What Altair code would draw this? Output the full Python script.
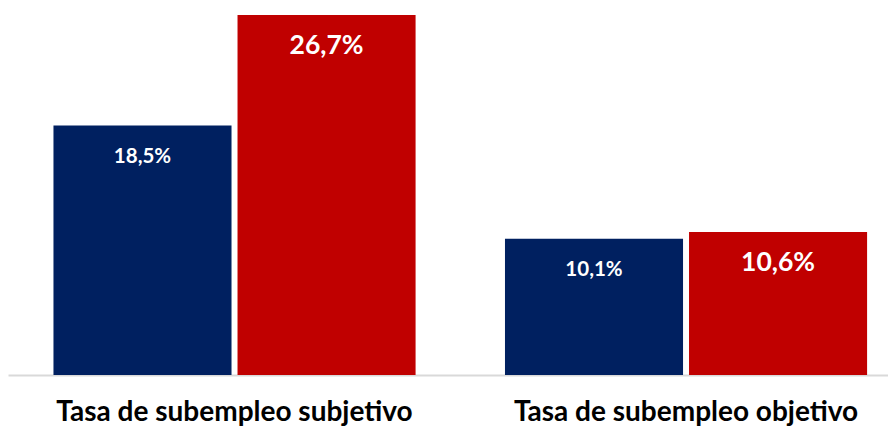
import altair as alt
import pandas as pd

grupos = ["Tasa de subempleo subjetivo", "Tasa de subempleo objetivo"]
series = ["Serie 1", "Serie 2"]
valores_serie1 = [18.5, 10.1]
valores_serie2 = [26.7, 10.6]
colores = ["#002060", "#C00000"]

rows = []
for g, v1, v2 in zip(grupos, valores_serie1, valores_serie2):
    rows.append({"grupo": g, "serie": series[0], "valor": v1})
    rows.append({"grupo": g, "serie": series[1], "valor": v2})
df = pd.DataFrame(rows)
df["etiqueta"] = df["valor"].map(lambda v: f"{v:.1f}".replace(".", ",") + "%")

x_enc = alt.X(
    "grupo:N",
    sort=grupos,
    scale=alt.Scale(paddingInner=0.198, paddingOuter=0.0735, align=0.685),
    axis=alt.Axis(
        title=None, labelAngle=0, ticks=False, grid=False,
        domainColor="#D9D9D9", domainWidth=2,
        labelFont="Lato", labelFontSize=28, labelFontWeight="bold",
        labelColor="#000000", labelPadding=23, labelLimit=0,
    ),
)
xoff = alt.XOffset("serie:N", sort=series, scale=alt.Scale(paddingInner=0.0326, paddingOuter=0))
y_enc = alt.Y("valor:Q", scale=alt.Scale(domain=[0, 27.22], nice=False), axis=None)

base = alt.Chart(df).encode(x=x_enc, xOffset=xoff, y=y_enc)

bars = base.mark_bar().encode(
    color=alt.Color("serie:N", sort=series, scale=alt.Scale(domain=series, range=colores), legend=None)
)

labels = base.mark_text(
    font="Lato", fontWeight="bold", color="white", baseline="middle", dy=31
).encode(
    text="etiqueta:N",
    size=alt.Size("serie:N", sort=series, scale=alt.Scale(domain=series, range=[20.5, 26.5]), legend=None),
)

chart = (
    alt.layer(bars, labels)
    .properties(width=880, height=367, padding=0, background="white")
    .configure_view(stroke=None)
)

chart.save("out.html", embed_options={"renderer": "svg", "actions": False})
